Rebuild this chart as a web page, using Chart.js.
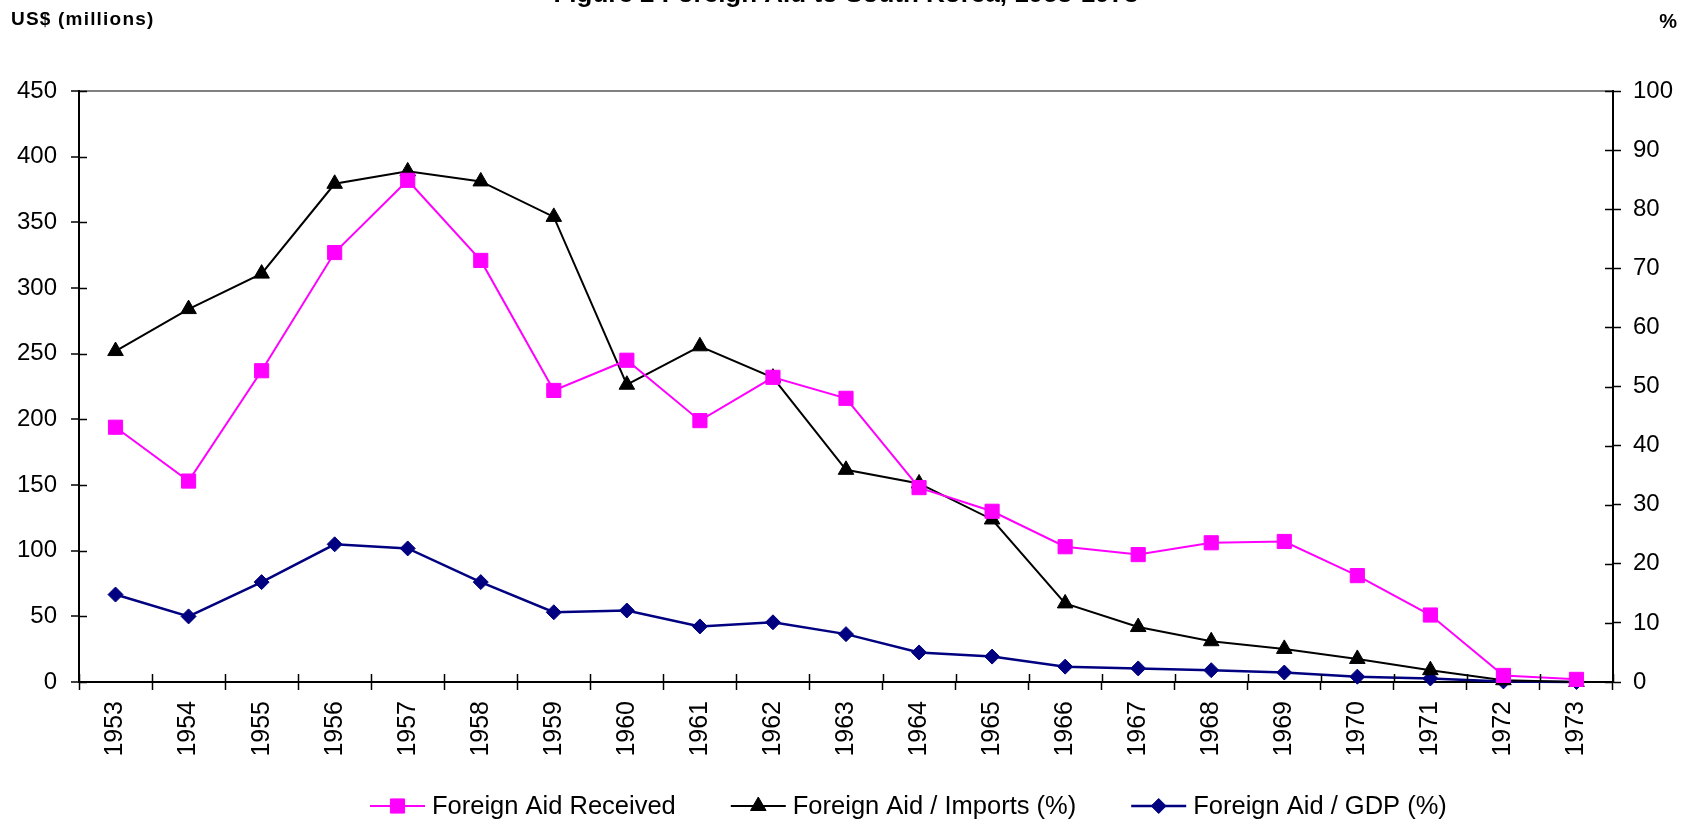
<!DOCTYPE html>
<html>
<head>
<meta charset="utf-8">
<script src="https://cdn.jsdelivr.net/npm/chart.js@4.4.1/dist/chart.umd.min.js"></script>
<style>
  html, body { margin: 0; padding: 0; background: #fff; }
  #wrap { width: 1692px; height: 825px; }
</style>
</head>
<body>
<div id="wrap"><canvas id="chart" width="1692" height="825"></canvas></div>
<script>
const years = ["1953", "1954", "1955", "1956", "1957", "1958", "1959", "1960", "1961", "1962", "1963",
    "1964", "1965", "1966", "1967", "1968", "1969", "1970", "1971", "1972", "1973"]

// US$ millions (left axis)
const aidReceived = [194, 153, 237, 327, 382, 321, 222, 245, 199, 232, 216,
    148, 130, 103, 97, 106, 107, 81, 51, 5, 2]

// percent (right axis)
const aidImports = [56.0, 63.1, 69.1, 84.3, 86.4, 84.7, 78.7, 50.3, 56.8, 51.5, 35.9,
    33.6, 27.5, 13.3, 9.3, 6.9, 5.6, 3.9, 2.0, 0.3, 0.0]
const aidGdp = [14.8, 11.1, 16.9, 23.3, 22.6, 16.9, 11.8, 12.1, 9.4, 10.1, 8.1,
    5.0, 4.3, 2.6, 2.3, 2.0, 1.6, 0.9, 0.6, 0.1, 0.0]

const leftTicks = { min: 0, max: 450, step: 50 }
const rightTicks = { min: 0, max: 100, step: 10 }

const titleText = "Figure 2 Foreign Aid to South Korea, 1953-1973"
const leftUnit = "US$ (millions)"
const rightUnit = "%"

const FONT = "'Liberation Sans', Arial, Helvetica, sans-serif"
Chart.defaults.font.family = FONT
Chart.defaults.color = "#000"

// title (cut off at top), unit labels, inner half of tick marks, legend
const decorations = {
    id: "decorations",
    afterDraw(chart) {
        const ctx = chart.ctx
        const x = chart.scales.x
        const y = chart.scales.y
        const y1 = chart.scales.y1
        ctx.save()

        // title, mostly above the canvas edge
        ctx.fillStyle = "#000"
        ctx.font = "bold 26px " + FONT
        ctx.textAlign = "center"
        ctx.textBaseline = "alphabetic"
        ctx.fillText(titleText, 846, 2)

        // axis unit labels
        ctx.font = "bold 19px " + FONT
        ctx.letterSpacing = "1.2px"
        ctx.textAlign = "left"
        ctx.textBaseline = "middle"
        ctx.fillText(leftUnit, 11, 20)
        ctx.textAlign = "right"
        ctx.letterSpacing = "0px"
        ctx.font = "bold 20px " + FONT
        ctx.fillText(rightUnit, 1677, 22)

        // inner halves of cross tick marks
        ctx.strokeStyle = "#000"
        ctx.lineWidth = 1.5
        ctx.beginPath()
        const n = years.length
        const cw = x.width / n
        for (let i = 0; i <= n; i++) {
            const px = Math.round(x.left + i * cw) + 0.5
            ctx.moveTo(px, x.top)
            ctx.lineTo(px, x.top - 8)
        }
        y.ticks.forEach((t) => {
            const py = Math.round(y.getPixelForValue(t.value)) + 0.5
            ctx.moveTo(y.right, py)
            ctx.lineTo(y.right + 8, py)
        })
        y1.ticks.forEach((t) => {
            const py = Math.round(y1.getPixelForValue(t.value)) + 0.5
            ctx.moveTo(y1.left, py)
            ctx.lineTo(y1.left - 8, py)
        })
        ctx.stroke()

        // legend
        ctx.font = "25.5px " + FONT
        ctx.textAlign = "left"
        ctx.textBaseline = "middle"
        const legendY = 806
        let lx = 370
        chart.data.datasets.forEach((ds) => {
            ctx.strokeStyle = ds.borderColor
            ctx.lineWidth = ds.borderWidth
            ctx.beginPath()
            ctx.moveTo(lx, legendY)
            ctx.lineTo(lx + 55, legendY)
            ctx.stroke()
            ctx.fillStyle = ds.pointBackgroundColor
            ctx.strokeStyle = ds.pointBorderColor
            ctx.lineWidth = 1
            Chart.helpers.drawPoint(ctx, {
                pointStyle: ds.pointStyle,
                rotation: 0,
                radius: ds.pointRadius,
                borderWidth: 1
            }, lx + 27.5, legendY)
            ctx.fillStyle = "#000"
            ctx.fillText(ds.label, lx + 62, legendY + 1)
            lx += 62 + ctx.measureText(ds.label).width + 55
        })
        ctx.restore()
    }
}

new Chart(document.getElementById("chart"), {
    type: "line",
    data: {
        labels: years,
        datasets: [{
            label: "Foreign Aid Received",
            data: aidReceived,
            yAxisID: "y",
            borderColor: "#FF00FF",
            backgroundColor: "#FF00FF",
            borderWidth: 2,
            pointStyle: "rect",
            pointRadius: 10,
            pointBackgroundColor: "#FF00FF",
            pointBorderColor: "#FF00FF",
            pointBorderWidth: 1,
            tension: 0,
            clip: false
        }, {
            label: "Foreign Aid / Imports (%)",
            data: aidImports,
            yAxisID: "y1",
            borderColor: "#000000",
            backgroundColor: "#000000",
            borderWidth: 2,
            pointStyle: "triangle",
            pointRadius: 9,
            pointBackgroundColor: "#000000",
            pointBorderColor: "#000000",
            pointBorderWidth: 1,
            tension: 0,
            clip: false
        }, {
            label: "Foreign Aid / GDP (%)",
            data: aidGdp,
            yAxisID: "y1",
            borderColor: "#000080",
            backgroundColor: "#000080",
            borderWidth: 2.5,
            pointStyle: "rectRot",
            pointRadius: 7.5,
            pointBackgroundColor: "#000080",
            pointBorderColor: "#000080",
            pointBorderWidth: 1,
            tension: 0,
            clip: false
        }]
    },
    options: {
        responsive: false,
        animation: false,
        devicePixelRatio: 1,
        layout: {
            padding: { top: 91, left: 0, right: 0, bottom: 0 }
        },
        plugins: {
            legend: { display: false },
            title: { display: false },
            tooltip: { enabled: false }
        },
        scales: {
            x: {
                offset: true,
                grid: {
                    offset: true,
                    drawOnChartArea: false,
                    drawTicks: true,
                    tickLength: 8,
                    tickColor: "#000",
                    tickWidth: 1.5
                },
                border: { color: "#000", width: 2 },
                ticks: {
                    minRotation: 90,
                    maxRotation: 90,
                    autoSkip: false,
                    padding: 11,
                    font: { size: 25 }
                },
                afterFit(scale) { scale.height = 143 }
            },
            y: {
                position: "left",
                min: leftTicks.min,
                max: leftTicks.max,
                grid: {
                    color: (c) => c.tick && c.tick.value === leftTicks.max ? "#808080" : "rgba(0,0,0,0)",
                    lineWidth: 2,
                    drawTicks: true,
                    tickLength: 8,
                    tickColor: "#000",
                    tickWidth: 1.5
                },
                border: { color: "#000", width: 2 },
                ticks: {
                    stepSize: leftTicks.step,
                    padding: 14,
                    font: { size: 24 }
                },
                afterFit(scale) { scale.width = 79 }
            },
            y1: {
                position: "right",
                min: rightTicks.min,
                max: rightTicks.max,
                grid: {
                    drawOnChartArea: false,
                    drawTicks: true,
                    tickLength: 8,
                    tickColor: "#000",
                    tickWidth: 1.5
                },
                border: { color: "#000", width: 2 },
                ticks: {
                    stepSize: rightTicks.step,
                    padding: 12,
                    font: { size: 24 }
                },
                afterFit(scale) { scale.width = 79 }
            }
        }
    },
    plugins: [decorations]
})
</script>
</body>
</html>
